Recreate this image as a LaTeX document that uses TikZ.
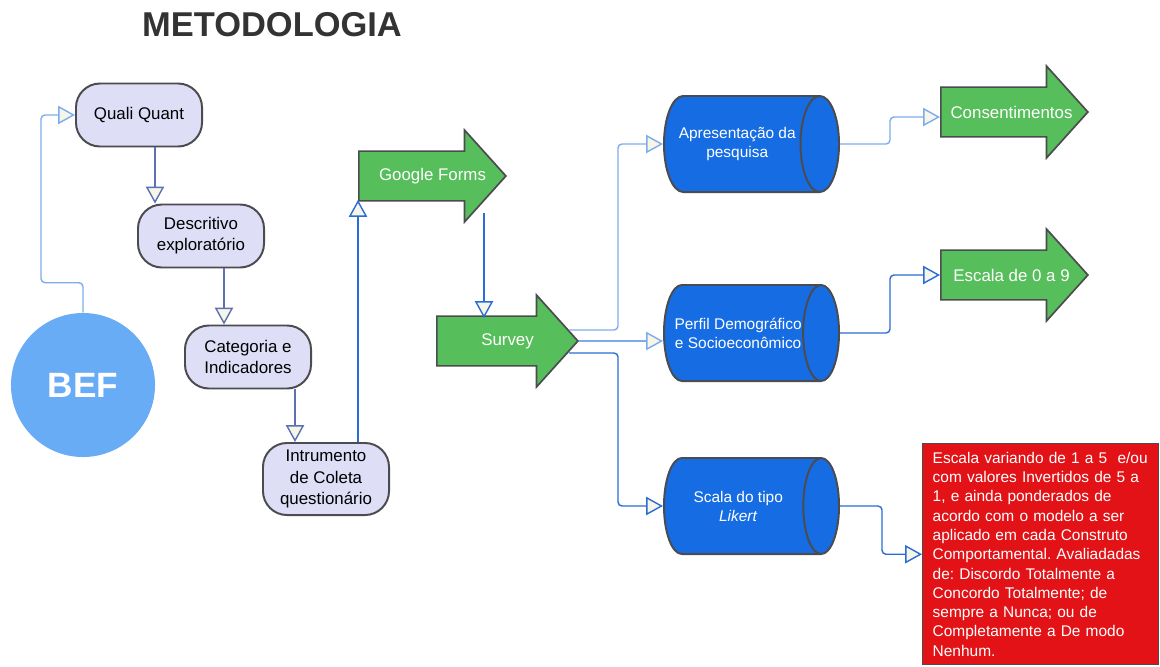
\documentclass[tikz,border=0pt]{standalone}
\usepackage{fontspec}
\setmainfont{Liberation Sans}
\usetikzlibrary{arrows.meta,positioning,calc,shapes.geometric,shapes.arrows}

\definecolor{boxfill}{RGB}{222,223,247}
\definecolor{boxline}{RGB}{75,75,80}
\definecolor{beffill}{RGB}{104,172,246}
\definecolor{greenfill}{RGB}{86,190,90}
\definecolor{cylfill}{RGB}{22,108,226}
\definecolor{redfill}{RGB}{226,18,22}
\definecolor{lnlight}{RGB}{125,172,236}
\definecolor{lnmid}{RGB}{92,112,178}
\definecolor{lnblue}{RGB}{42,108,214}
\definecolor{tipfill}{RGB}{246,246,232}
\definecolor{titlegray}{RGB}{51,51,51}

\begin{document}
\begin{tikzpicture}[x=0.025cm, y=-0.025cm, every node/.style={font=\fontsize{12}{15}\selectfont}, box/.style={draw=boxline, line width=1.4pt, fill=boxfill, rounded corners=0.6cm, align=center, minimum width=3.15cm, minimum height=1.575cm, inner sep=2pt}, bigarrow/.style={shape=single arrow, draw=boxline, line width=1.2pt, fill=greenfill, single arrow head extend=0.525cm, single arrow tip angle=96, minimum height=3.675cm, text height=9pt, text depth=3pt, inner ysep=0.39cm, anchor=tail}, arrowtext/.style={text=white}, cyl/.style={shape=cylinder, shape aspect=0.9, draw=boxline, line width=1.4pt, cylinder uses custom fill, cylinder body fill=cylfill, cylinder end fill=cylfill, text=white, align=center, font=\fontsize{11}{13.5}\selectfont, inner xsep=0pt, minimum height=4.375cm, minimum width=2.4cm, anchor=west}, arrow/.style={-{Triangle[length=12pt, width=13pt, fill=tipfill]}, line width=1pt, rounded corners=0.1cm}]
\useasboundingbox (0,0) rectangle (1160,666);
\node[font=\fontsize{24.5}{28}\selectfont\bfseries, text=titlegray] (title) at (272,25) {METODOLOGIA};
\node[circle, fill=beffill, minimum size=3.6cm, text=white, font=\fontsize{25}{30}\selectfont\bfseries] (bef) at (83,385) {BEF};
\node[box] (qq) at (139,115) {Quali Quant};
\node[box] (desc) at (201,236) {Descritivo\\exploratório};
\node[box] (cat) at (248,357) {Categoria e\\Indicadores};
\node[box, minimum height=1.8cm] (intr) at (326,479) {Intrumento\\de Coleta\\questionário};
% setas verdes
\node[bigarrow] (gf) at (358,176) {};
\node[arrowtext] (gftext) at ($(gf.tail)!0.5!(gf.tip)$) {Google Forms};
\node[bigarrow, minimum height=3.525cm] (sv) at (436,341) {};
\node[arrowtext] (svtext) at ($(sv.tail)!0.5!(sv.tip)$) {Survey};
\node[bigarrow] (cons) at (940,112) {};
\node[arrowtext] (constext) at ($(cons.tail)!0.48!(cons.tip)$) {Consentimentos};
\node[bigarrow] (esc) at (940,275) {};
\node[arrowtext] (esctext) at ($(esc.tail)!0.48!(esc.tip)$) {Escala de 0 a 9};
% cilindros
\node[cyl] (apr) at (663,144) {Apresentação da\\pesquisa};
\node[cyl] (perf) at (663,333) {Perfil Demográfico\\e Socioeconômico};
\node[cyl] (lik) at (663,506) {Scala do tipo\\\textit{Likert}};
\node[draw=boxline, line width=1pt, fill=redfill, text=white, anchor=north west, minimum width=5.9cm, minimum height=5.525cm, text width=5.4cm, inner xsep=0.25cm, align=left, font=\fontsize{11}{13.7}\selectfont\frenchspacing] (nota) at (922,443) {Escala variando de 1 a 5\ \ e/ou\\com valores Invertidos de 5 a\\1, e ainda ponderados de\\acordo com o modelo a ser\\aplicado em cada Construto\\Comportamental. Avaliadadas\\de: Discordo Totalmente a\\Concordo Totalmente; de\\sempre a Nunca; ou de\\Completamente a De modo\\Nenhum.};
% fluxo da esquerda
\draw[arrow, lnlight] (bef.north) -- ++(0,-30) -| ($(qq.west)+(-34,0)$) -- (qq.west);
\draw[arrow, lnmid] ($(qq.south)+(16,0)$) -- ($(desc.north)+(-46,0)$);
\draw[arrow, lnmid] ($(desc.south)+(23,0)$) -- ($(cat.north)+(-24,0)$);
\draw[arrow, lnmid] ($(cat.south)+(47,0)$) -- ($(intr.north)+(-31,0)$);
\draw[arrow, lnblue] ($(intr.north)+(32,0)$) -- ($(gf.tail)+(0,24)$);
\draw[arrow, lnblue] ($(gf.tail)+(126,37)$) -- ($(sv.tail)+(48,-23)$);
% saidas do survey
\draw[arrow, lnlight] ($(sv.tip)+(-10,-11)$) -- ++(49,0) |- (apr.west);
\draw[arrow, lnlight] (sv.tip) -- (sv.tip -| perf.west);
\draw[arrow, lnblue] ($(sv.tip)+(-10,12)$) -- ++(49,0) |- (lik.west);
\draw[arrow, lnlight] (apr.east) -- ++(50,0) |- ($(cons.tail)+(0,5)$);
\draw[arrow, lnblue] (perf.east) -- ++(50,0) |- (esc.tail);
\draw[arrow, lnblue] (lik.east) -- ++(42,0) |- (nota.west);
\end{tikzpicture}
\end{document}
